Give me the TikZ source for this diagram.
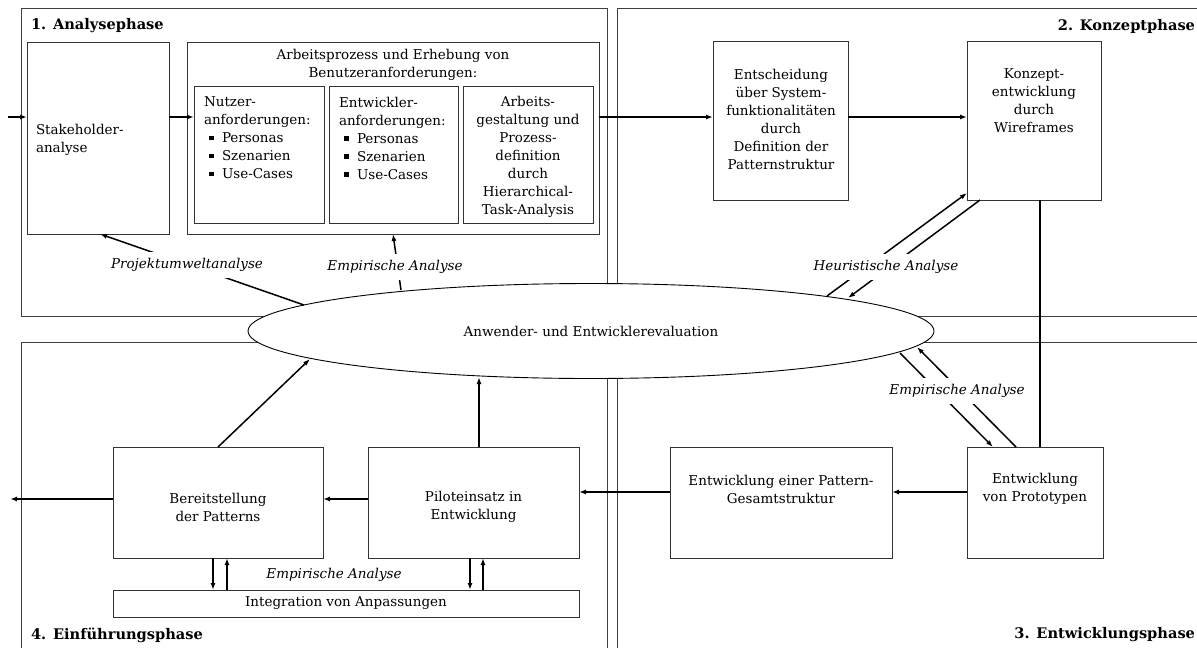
\documentclass[tikz,border=0pt]{standalone}
\usepackage{fontspec}
\setmainfont{DejaVu Serif}
\usetikzlibrary{shapes.geometric,arrows.meta,calc}

% small filled square used as list bullet
\newcommand{\sqitem}[1]{\hspace*{5pt}\raisebox{2.5pt}{\rule{4.5pt}{4.5pt}}\hspace*{8.5pt}#1}

\begin{document}
\begin{tikzpicture}[x=1pt,y=-1pt,
  every node/.style={font=\fontsize{13.5}{18}\selectfont, inner sep=0pt, outer sep=0pt},
  phase/.style={draw=black!75, line width=0.9pt},
  box/.style={draw=black!80, line width=0.9pt, fill=white},
  arr/.style={line width=1.5pt, -{Latex[length=7pt,width=5pt]}},
  plain/.style={line width=1.5pt},
  lbl/.style={font=\fontsize{13.5}{18}\selectfont\itshape, fill=white, inner sep=6pt},
  ptitle/.style={font=\fontsize{14.6}{18}\selectfont\bfseries},
]
\useasboundingbox (0,0) rectangle (1197,648);
\clip (0,0) rectangle (1197,648);

% phase frames
\draw[phase] (21,8) rectangle (607,316);
\draw[phase] (617,8) rectangle (1215,316);
\draw[phase] (21,342) rectangle (607,665);
\draw[phase] (617,342) rectangle (1215,665);

\node[ptitle, anchor=west] (t1) at (31,26) {1. Analysephase};
\node[ptitle, anchor=east] (t2) at (1195,26) {2. Konzeptphase};
\node[ptitle, anchor=east] (t3) at (1195,635) {3. Entwicklungsphase};
\node[ptitle, anchor=west] (t4) at (31,635) {4. Einführungsphase};

% central evaluation
\node[ellipse, draw=black, line width=0.9pt, fill=white, minimum width=686pt, minimum height=95pt] (eval) at (591,331) {Anwender- und Entwicklerevaluation};

% analysis phase
\node[box, minimum width=142pt, minimum height=192pt] (stake) at (98,138) {};
\node[anchor=west, align=left] (staketx) at (36,140) {Stakeholder-\\analyse};
\node[box, minimum width=412pt, minimum height=192pt] (arb) at (393,138) {};
\node[align=center] (arbtx) at (393,64.5) {Arbeitsprozess und Erhebung von\\Benutzeranforderungen:};
\node[box, minimum width=130pt, minimum height=137pt] (nutzer) at (259,154.5) {};
\node[box, minimum width=129pt, minimum height=137pt] (entw) at (393.5,154.5) {};
\node[box, minimum width=130pt, minimum height=137pt] (arbg) at (528,154.5) {};
\node[anchor=west, align=left] (nutzertx) at (204,138) {Nutzer-\\anforderungen:\\\sqitem{Personas}\\\sqitem{Szenarien}\\\sqitem{Use-Cases}};
\node[anchor=west, align=left] (entwtx) at (339,138) {Entwickler-\\anforderungen:\\\sqitem{Personas}\\\sqitem{Szenarien}\\\sqitem{Use-Cases}};
\node[align=center] (arbgtx) at (528,156.5) {Arbeits-\\gestaltung und\\Prozess-\\definition\\durch\\Hierarchical-\\Task-Analysis};

% concept phase
\node[box, minimum width=135pt, minimum height=159pt] (ents) at (780.5,120.5) {};
\node[align=center] (entstx) at (781,119.5) {Entscheidung\\über System-\\funktionalitäten\\durch\\Definition der\\Patternstruktur};
\node[box, minimum width=134pt, minimum height=159pt] (konz) at (1034,120.5) {};
\node[align=center] (konztx) at (1034,101) {Konzept-\\entwicklung\\durch\\Wireframes};

% development phase
\node[box, minimum width=136pt, minimum height=111pt] (proto) at (1035,502.5) {};
\node[align=center] (prototx) at (1035,489) {Entwicklung\\von Prototypen};
\node[box, minimum width=222pt, minimum height=111pt] (gesamt) at (781,502.5) {};
\node[align=center] (gesamttx) at (781,489) {Entwicklung einer Pattern-\\Gesamtstruktur};

% introduction phase
\node[box, minimum width=211pt, minimum height=111pt] (pilot) at (473.5,502.5) {};
\node[align=center] (pilottx) at (473.5,507) {Piloteinsatz in\\Entwicklung};
\node[box, minimum width=210pt, minimum height=111pt] (bereit) at (218,502.5) {};
\node[align=center] (bereittx) at (218,507) {Bereitstellung\\der Patterns};
\node[box, minimum width=466pt, minimum height=27pt] (integ) at (346,603.5) {Integration von Anpassungen};

% helper coordinates
\coordinate (r1) at (0,117);
\coordinate (r2) at (0,492);
\coordinate (r3) at (0,499);
\coordinate (inL) at (8,117);
\coordinate (outL) at (10,499);
\coordinate (vx) at (1040,0);
\coordinate (pA) at (304,305);
\coordinate (pB) at (100,0);
\coordinate (eA) at (401,290);
\coordinate (eB) at (393,0);
\coordinate (hA) at (827,296);
\coordinate (hB) at (848,298);
\coordinate (mA) at (917,347);
\coordinate (mB) at (900,353);
\coordinate (e1) at (310,359);
\coordinate (e2) at (479,377);
\coordinate (d1) at (213,0);
\coordinate (u1) at (227,0);
\coordinate (d2) at (470,0);
\coordinate (u2) at (483,0);

% main flow
\draw[arr] (inL) -- (stake.west |- r1);
\draw[arr] (stake.east |- r1) -- (nutzer.west |- r1);
\draw[arr] (arb.east |- r1) -- (ents.west |- r1);
\draw[arr] (ents.east |- r1) -- (konz.west |- r1);
\draw[plain] (konz.south -| vx) -- (proto.north -| vx);
\draw[arr] (proto.west |- r2) -- (gesamt.east |- r2);
\draw[arr] (gesamt.west |- r2) -- (pilot.east |- r2);
\draw[arr] (pilot.west |- r3) -- (bereit.east |- r3);
\draw[arr] (bereit.west |- r3) -- (outL);

% evaluation loops
\draw[arr] (pA) -- (stake.south -| pB);
\draw[arr] (eA) -- (arb.south -| eB);
\draw[arr] (hA) -- ($(konz.south west)+(0,-7)$);
\draw[arr] ($(konz.south west)+(13,0)$) -- (hB);
\draw[arr] ($(proto.north west)+(49,0)$) -- (mA);
\draw[arr] (mB) -- ($(proto.north west)+(26,0)$);
\draw[arr] (bereit.north) -- (e1);
\draw[arr] (pilot.north -| e2) -- (e2);
\draw[arr] (bereit.south -| d1) -- (integ.north -| d1);
\draw[arr] (integ.north -| u1) -- (bereit.south -| u1);
\draw[arr] (pilot.south -| d2) -- (integ.north -| d2);
\draw[arr] (integ.north -| u2) -- (pilot.south -| u2);

% loop labels
\node[lbl] (lproj) at (187,265) {Projektumweltanalyse};
\node[lbl] (lemp1) at (395,267) {Empirische Analyse};
\node[lbl] (lheu) at (886,267) {Heuristische Analyse};
\node[lbl] (lemp2) at (957,391) {Empirische Analyse};
\node[lbl, fill=none] (lemp3) at (334,575) {Empirische Analyse};
\end{tikzpicture}
\end{document}
